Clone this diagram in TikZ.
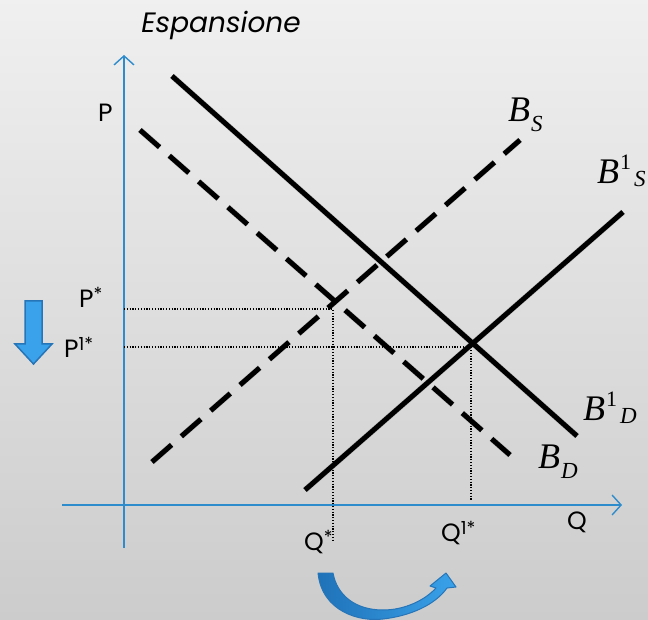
\documentclass[tikz,border=0pt]{standalone}
\usepackage{fontspec}
\setmainfont{Liberation Serif}
\newfontfamily\lblfont{Poppins}
\usetikzlibrary{arrows.meta}
\definecolor{axisblue}{HTML}{2E8BCC}
\definecolor{arrfill}{HTML}{3AA2EA}
\definecolor{arrdraw}{HTML}{2675B8}
\definecolor{arrdark}{HTML}{1F72B8}
\newcommand{\mysup}[1]{\raisebox{7pt}{\fontsize{18}{18}\selectfont #1}}
\newcommand{\Bsb}[1]{B\hspace{1pt}\raisebox{-10pt}{\fontsize{23}{23}\selectfont #1}}
\newcommand{\Bsps}[1]{B\hspace{1pt}\raisebox{14pt}{\fontsize{22}{22}\selectfont\upshape 1}\hspace{3pt}\raisebox{-3pt}{\fontsize{23}{23}\selectfont #1}}
\tikzset{
  curve/.style={line width=5pt, black},
  dashcurve/.style={curve, dash pattern=on 26pt off 13pt},
  shadowline/.style={line width=6pt, black, opacity=0.15},
  axis/.style={axisblue, line width=1.4pt, -{Straight Barb[length=9pt,width=20pt,line width=1.4pt]}},
  guide/.style={black, line width=1.2pt, dash pattern=on 1.2pt off 1.6pt},
  lbl/.style={font=\lblfont\fontsize{25}{27}\selectfont, inner sep=0pt, anchor=base west},
  blbl/.style={font=\fontsize{36}{40}\selectfont\itshape, inner sep=0pt, anchor=base west},
}
\begin{document}
\begin{tikzpicture}[x=1pt,y=-1pt]
\shade[top color=white!94!black, bottom color=white!80!black] (0,0) rectangle (648,620);
\useasboundingbox (0,0) rectangle (648,620);
% coordinates
\coordinate (bd1a) at (172,76);   \coordinate (bd1b) at (577,436);
\coordinate (bda) at (140,130);   \coordinate (bdb) at (510,455);
\coordinate (bsa) at (152,462);   \coordinate (bsb) at (520,140);
\coordinate (bs1a) at (305,490);  \coordinate (bs1b) at (623,212);
\coordinate (yb) at (124,548);    \coordinate (yt) at (124,55);
\coordinate (xl) at (62,505);     \coordinate (xr) at (622,505);
\coordinate (e0) at (333,309);    \coordinate (e1) at (471,347);
\coordinate (e0y) at (124,309);   \coordinate (e1y) at (124,347);
\coordinate (e0x) at (333,540);   \coordinate (e1x) at (471,500);
% shadows
\begin{scope}[shift={(3,4)}]
\draw[shadowline] (bd1a) -- (bd1b);
\draw[shadowline] (bs1a) -- (bs1b);
\draw[shadowline, dash pattern=on 26pt off 13pt] (bda) -- (bdb);
\draw[shadowline, dash pattern=on 26pt off 13pt] (bsa) -- (bsb);
\end{scope}
% axes
\draw[axis] (yb) -- (yt);
\draw[axis] (xl) -- (xr);
% guides
\draw[guide] (e0y) -- (e0) -- (e0x);
\draw[guide] (e1y) -- (e1) -- (e1x);
% curves
\draw[curve] (bd1a) -- (bd1b);
\draw[curve] (bs1a) -- (bs1b);
\draw[dashcurve] (bda) -- (bdb);
\draw[dashcurve] (bsa) -- (bsb);
% labels
\node[font=\lblfont\itshape\fontsize{28}{30}\selectfont, inner sep=0pt, anchor=base] (title) at (221,33) {Espansione};
\node[lbl] (p) at (98,122) {P};
\node[lbl] (ps) at (79,308) {P\mysup{*}};
\node[lbl] (p1s) at (64,357) {P\mysup{1*}};
\node[lbl] (qs) at (304,550) {Q\mysup{*}};
\node[lbl] (q1s) at (441,541) {Q\mysup{1*}};
\node[lbl] (q) at (567,529) {Q};
\node[blbl] (bs) at (508,122) {\Bsb{S}};
\node[blbl] (bs1) at (597,184) {\Bsps{S}};
\node[blbl] (bd1) at (583,420) {\Bsps{D}};
\node[blbl] (bd) at (538,468) {\Bsb{D}};
% down block arrow
\filldraw[fill=arrfill, draw=arrdraw, line width=1.5pt, line join=miter]
  (25,301) -- (42,301) -- (42,344) -- (52,344) -- (33.5,364) -- (15,344) -- (25,344) -- cycle;
% curved arrow
\shadedraw[left color=arrdark, right color=arrfill, draw=arrdraw, line width=1pt, line join=round]
  (318,573) .. controls (322,612) and (360,622) .. (383,619)
  .. controls (410,616) and (435,605) .. (447,588)
  -- (456,587) -- (446,573) -- (430,586) -- (436,588)
  .. controls (425,600) and (405,610) .. (383,610)
  .. controls (355,610) and (337,595) .. (333,573) -- cycle;
\end{tikzpicture}
\end{document}
